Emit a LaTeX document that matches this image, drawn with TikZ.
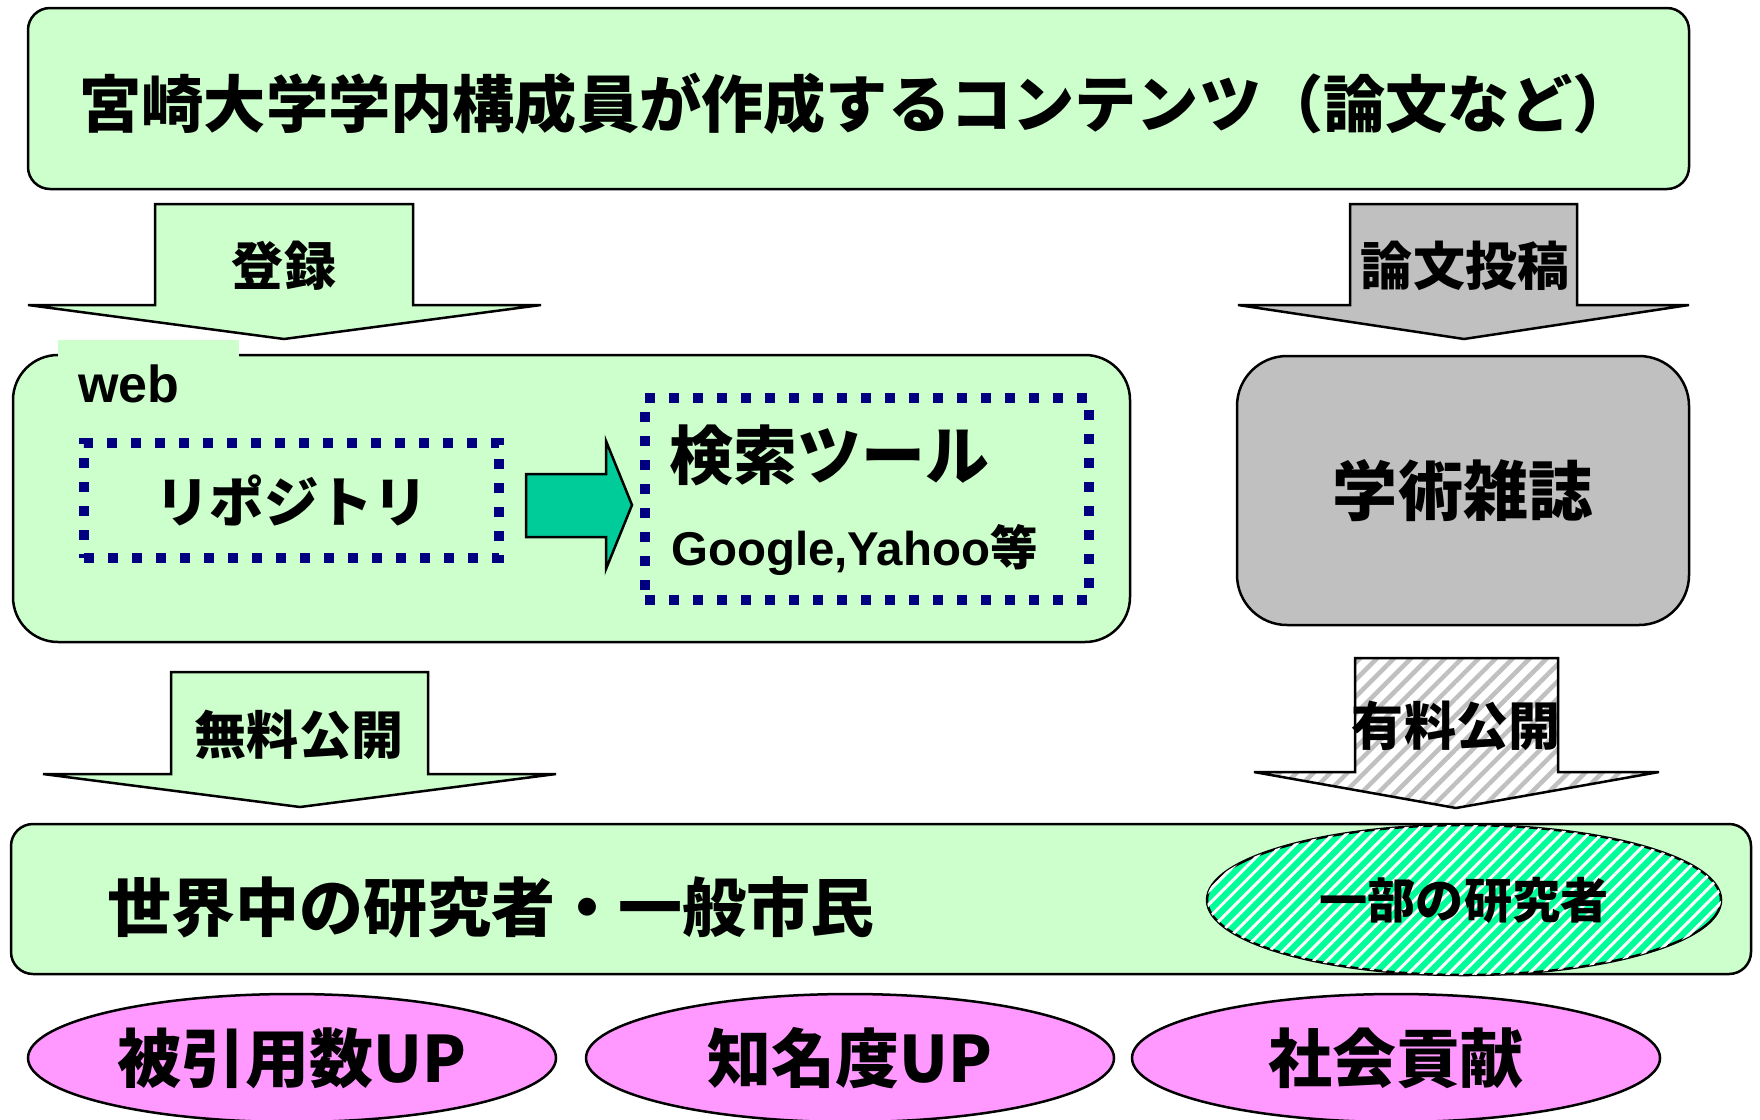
\documentclass[tikz,border=0pt]{standalone}
\usepackage{fontspec}
\setmainfont{Noto Sans CJK JP}
\newfontfamily\lat{Liberation Sans}
\usepackage{tikz}
\usetikzlibrary{shapes.geometric,patterns.meta}
\definecolor{lgreen}{HTML}{CCFFCC}
\definecolor{jgray}{HTML}{C0C0C0}
\definecolor{navy}{HTML}{000080}
\definecolor{arrgreen}{HTML}{00CC99}
\definecolor{mint}{HTML}{00FF99}
\definecolor{pinkish}{HTML}{FF99FF}
\newcommand{\setsz}[1]{\fontsize{#1}{#1}\selectfont\bfseries}

\begin{document}
\begin{tikzpicture}[x=0.1mm, y=-0.1mm, line width=0.25mm,
  panel/.style={draw, fill=lgreen, rounded corners=2.2mm, inner sep=0pt},
  dotbox/.style={draw=navy, line width=1mm, dash pattern=on 1mm off 1.4mm, inner sep=0pt},
  goal/.style={ellipse, draw, fill=pinkish, inner sep=0pt, minimum width=52.8mm, minimum height=12.8mm, font=\setsz{18.2pt}},
  fatarrow/.style={draw, line join=miter},
  lbl/.style={inner sep=0pt, font=\setsz{14.8pt}}]
\useasboundingbox (0,0) rectangle (1760,1119);
\clip (0,0) rectangle (1760,1119);

% contents made on campus
\node[panel, minimum width=166.1mm, minimum height=18.1mm] (staff) at (858.5,98.5) {};
\node[lbl, font=\setsz{17.7pt}] (staffT) at (857,104) {宮崎大学学内構成員が作成するコンテンツ（論文など）};

% down arrows from the top box
\draw[fatarrow, fill=lgreen] (155,204) -- (413,204) -- (413,305) -- (541,305) -- (284,339) -- (28,305) -- (155,305) -- cycle;
\node[lbl] (reg) at (284,266) {登録};
\draw[fatarrow, fill=jgray] (1350,204) -- (1577,204) -- (1577,305) -- (1689,305) -- (1464,339) -- (1238,305) -- (1350,305) -- cycle;
\node[lbl] (submit) at (1465,266) {論文投稿};

% web side
\node[panel, rounded corners=4.5mm, minimum width=111.7mm, minimum height=28.7mm] (web) at (571.5,498.5) {};
\fill[lgreen] (58,340) rectangle (239,380);
\node[anchor=west, inner sep=0pt, font={\lat\setsz{14.8pt}}] (webT) at (77,384) {web};
\node[dotbox, minimum width=41.5mm, minimum height=11.5mm, font=\setsz{15.5pt}] (repo) at (291.5,500.5) {リポジトリ};
\draw[fill=arrgreen] (526,474) -- (606,474) -- (606,441) -- (632,505) -- (606,569) -- (606,537) -- (526,537) -- cycle;
\node[dotbox, minimum width=44.4mm, minimum height=20.2mm] (search) at (867,499) {};
\node[lbl, anchor=west, font=\setsz{18.2pt}] (searchT) at (668,455) {検索ツール};
\node[lbl, anchor=west, font=\setsz{13.5pt}] (engines) at (670,550) {{\lat\bfseries Google,Yahoo}等};

% journal side
\node[panel, fill=jgray, rounded corners=5mm, minimum width=45.2mm, minimum height=26.9mm, font=\setsz{18.5pt}] (journal) at (1463,490.5) {学術雑誌};

% down arrows to readers
\draw[fatarrow, fill=lgreen] (171,672) -- (428,672) -- (428,774) -- (556,774) -- (300,807) -- (43,774) -- (171,774) -- cycle;
\node[lbl] (free) at (299,735) {無料公開};
\draw[fatarrow, pattern={Lines[angle=45,distance=1.2mm,line width=0.45mm]}, pattern color=jgray] (1355,658) -- (1558,658) -- (1558,772) -- (1659,772) -- (1456,808) -- (1254,772) -- (1355,772) -- cycle;
\node[lbl] (paid) at (1456,726) {有料公開};

% readers
\node[panel, minimum width=174mm, minimum height=15mm] (public) at (881,899) {};
\node[lbl, anchor=west, font=\setsz{18.2pt}] (publicT) at (106,907) {世界中の研究者・一般市民};
\node[ellipse, draw, fill=mint, postaction={pattern={Lines[angle=45,distance=0.95mm,line width=0.3mm]}, pattern color=white}, inner sep=0pt, minimum width=51.4mm, minimum height=15mm, font=\setsz{13.7pt}] (some) at (1464,900) {一部の研究者};

% effects
\node[goal] (cite) at (292,1058) {被引用数UP};
\node[goal] (fame) at (850,1058) {知名度UP};
\node[goal] (social) at (1396,1058) {社会貢献};
\end{tikzpicture}
\end{document}
